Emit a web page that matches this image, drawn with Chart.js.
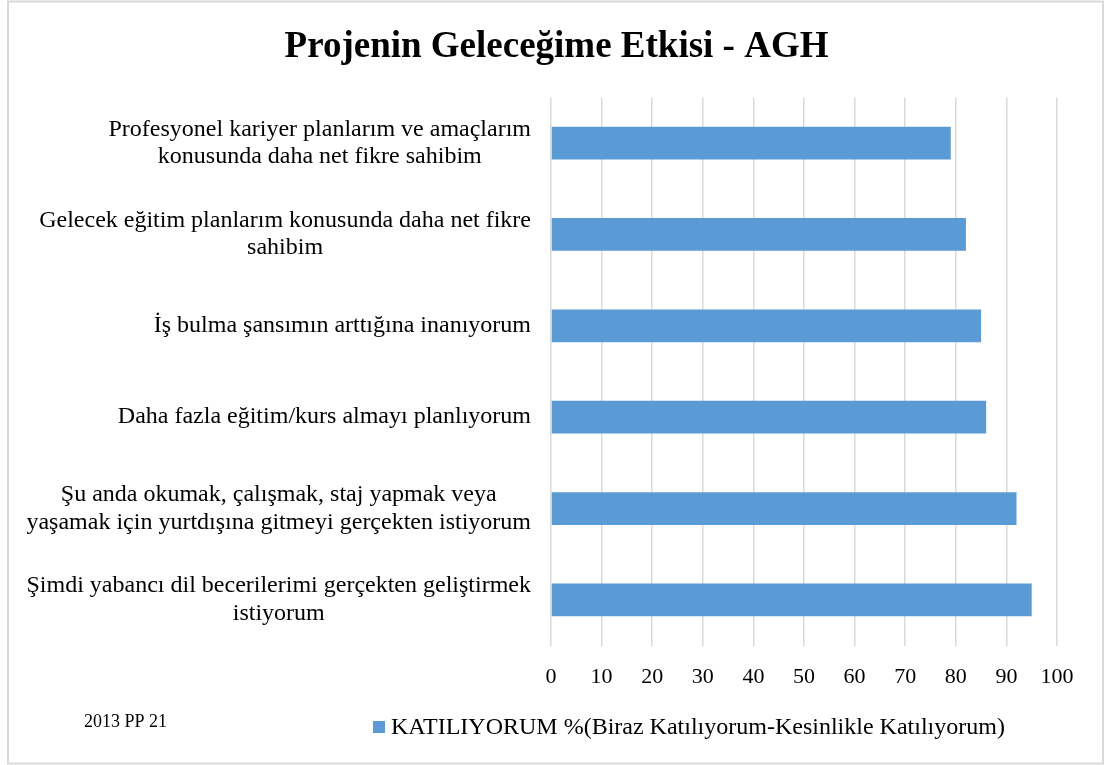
<!DOCTYPE html>
<html>
<head>
<meta charset="utf-8">
<script src="https://cdn.jsdelivr.net/npm/chart.js@4/dist/chart.umd.min.js"></script>
<style>
  html, body { margin: 0; padding: 0; background: #ffffff; }
  #wrap { position: relative; width: 1105px; height: 765px; }
  canvas { display: block; }
</style>
</head>
<body>
<div id="wrap"><canvas id="c" width="1105" height="765"></canvas></div>
<script>
const titleText = "Projenin Geleceğime Etkisi - AGH";
const categories = [
  ["Profesyonel kariyer planlarım ve amaçlarım", "konusunda daha net fikre sahibim"],
  ["Gelecek eğitim planlarım konusunda daha net fikre", "sahibim"],
  ["İş bulma şansımın arttığına inanıyorum"],
  ["Daha fazla eğitim/kurs almayı planlıyorum"],
  ["Şu anda okumak, çalışmak, staj yapmak veya", "yaşamak için yurtdışına gitmeyi gerçekten istiyorum"],
  ["Şimdi yabancı dil becerilerimi gerçekten geliştirmek", "istiyorum"]
];
const seriesName = "KATILIYORUM %(Biraz Katılıyorum-Kesinlikle Katılıyorum)";
const values = [79, 82, 85, 86, 92, 95];
const xTicks = [0, 10, 20, 30, 40, 50, 60, 70, 80, 90, 100];
const noteText = "2013 PP 21";

const SERIF = "'Liberation Serif', 'Times New Roman', serif";
const barColor = "#5b9bd5";

const decorPlugin = {
  id: 'decor',
  beforeDraw(chart) {
    const ctx = chart.ctx;
    ctx.save();
    ctx.fillStyle = '#ffffff';
    ctx.fillRect(0, 0, chart.width, chart.height);
    ctx.restore();
  },
  afterDraw(chart) {
    const ctx = chart.ctx;
    const yScale = chart.scales.y;
    ctx.save();
    // category labels: block right-aligned, lines centered within block
    ctx.font = "24px " + SERIF;
    ctx.fillStyle = '#000000';
    ctx.textBaseline = 'middle';
    ctx.textAlign = 'center';
    const rightEdge = yScale.right - 20;
    const lh = 27.5;
    chart.data.labels.forEach((lines, i) => {
      const arr = Array.isArray(lines) ? lines : [lines];
      const yc = yScale.getPixelForValue(i);
      let maxW = 0;
      arr.forEach(l => { maxW = Math.max(maxW, ctx.measureText(l).width); });
      const cx = rightEdge - maxW / 2;
      const y0 = yc - (arr.length - 1) * lh / 2;
      arr.forEach((l, k) => ctx.fillText(l, cx, y0 + k * lh));
    });
    // legend
    const ds = chart.data.datasets[0];
    ctx.fillStyle = ds.backgroundColor;
    ctx.fillRect(373, 721, 12, 12);
    ctx.fillStyle = '#000000';
    ctx.textAlign = 'left';
    ctx.font = "24px " + SERIF;
    ctx.fillText(ds.label, 391, 728);
    // note
    ctx.font = "18px " + SERIF;
    ctx.fillText(noteText, 84, 722);
    // outer border
    ctx.strokeStyle = '#d9d9d9';
    ctx.lineWidth = 2;
    ctx.strokeRect(8, 1.5, 1095, 762);
    ctx.restore();
  }
};

new Chart(document.getElementById('c'), {
  type: 'bar',
  data: {
    labels: categories,
    datasets: [{
      label: seriesName,
      data: values,
      backgroundColor: barColor,
      borderWidth: 0,
      barPercentage: 0.358,
      categoryPercentage: 1.0
    }]
  },
  options: {
    indexAxis: 'y',
    responsive: false,
    animation: false,
    devicePixelRatio: 1,
    layout: { padding: { top: 0, right: 48, bottom: 57, left: 56 } },
    plugins: {
      legend: { display: false },
      tooltip: { enabled: false },
      title: {
        display: true,
        text: titleText,
        color: '#000000',
        font: { family: SERIF, size: 37, weight: 'bold' },
        padding: { top: 25, bottom: 28 }
      }
    },
    scales: {
      x: {
        type: 'linear',
        min: 0,
        max: 100,
        afterBuildTicks(scale) { scale.ticks = xTicks.map(v => ({ value: v })); },
        ticks: {
          color: '#000000',
          font: { family: SERIF, size: 22 },
          padding: 18,
          maxRotation: 0
        },
        grid: { color: '#d9d9d9', lineWidth: 1.5, drawTicks: false },
        border: { display: false }
      },
      y: {
        type: 'category',
        ticks: { display: false },
        grid: { display: false },
        border: { display: false },
        afterFit(scale) { scale.width = 495; }
      }
    }
  },
  plugins: [decorPlugin]
});
</script>
</body>
</html>
